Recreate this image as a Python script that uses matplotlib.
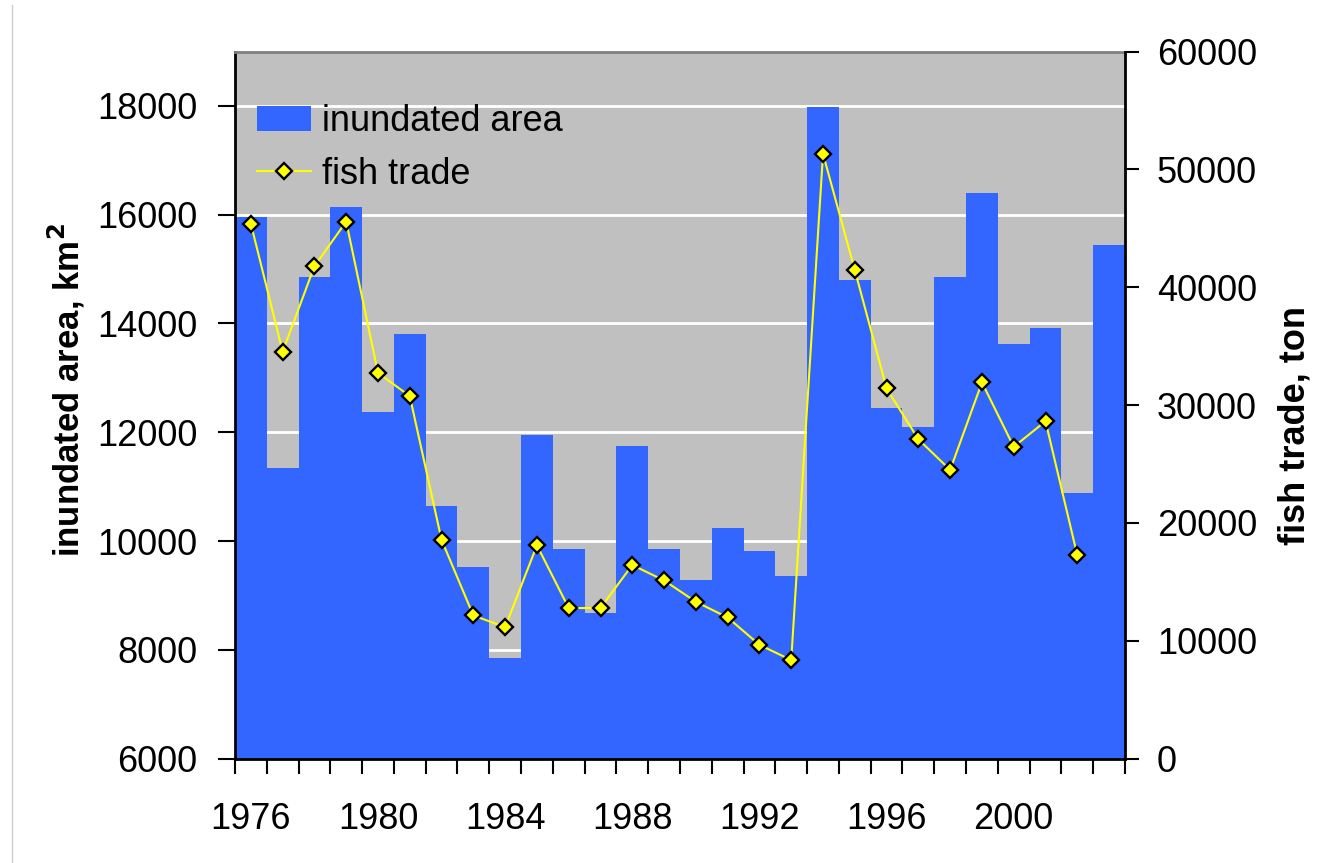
import numpy as np
import matplotlib
matplotlib.use("Agg")
from matplotlib import pyplot as plt
from matplotlib.lines import Line2D

plt.rcParams['font.family'] = ['Liberation Sans', 'DejaVu Sans']

# data
years = list(range(1976, 2004))
inundated_area = [15950, 11350, 14850, 16150, 12380, 13800, 10650, 9520, 7850,
                  11950, 9850, 8680, 11750, 9850, 9280, 10240, 9820, 9360,
                  17980, 14800, 12450, 12100, 14850, 16400, 13620, 13920,
                  10880, 15450]
trade_years = list(range(1976, 2003))
fish_trade = [45400, 34530, 41780, 45570, 32740, 30760, 18560, 12150, 11160,
              18100, 12780, 12780, 16430, 15120, 13310, 11980, 9660, 8360,
              51320, 41460, 31410, 27100, 24500, 31920, 26460, 28630, 17250]
label_years = [1976, 1980, 1984, 1988, 1992, 1996, 2000]
left_ticks = [6000, 8000, 10000, 12000, 14000, 16000, 18000]
right_ticks = [0, 10000, 20000, 30000, 40000, 50000, 60000]

fig = plt.figure(figsize=(13.38, 8.63), dpi=100)
ax = fig.add_axes([0.1756, 0.1209, 0.6652, 0.8194])
ax.set_facecolor('#C0C0C0')

# bars: one per year, filling the year slot
ax.bar(years, inundated_area, width=1.0, align='edge', color='#3366FF',
       linewidth=0, label='inundated area', zorder=2)
ax.set_xlim(1976, 2004)
ax.set_ylim(6000, 19000)
ax.set_yticks(left_ticks)
ax.set_axisbelow(True)
ax.yaxis.grid(True, color='white', linewidth=2)

# year boundary ticks, labels centred in the slot
ax.set_xticks(np.arange(1976, 2005))
ax.set_xticklabels([])
ax.set_xticks([y + 0.5 for y in label_years], minor=True)
ax.set_xticklabels([str(y) for y in label_years], minor=True)
ax.tick_params(axis='x', which='major', direction='out', length=11, width=1.5)
ax.tick_params(axis='x', which='minor', length=0, pad=31, labelsize=26)
ax.tick_params(axis='y', direction='out', length=12, width=1.5, pad=15,
               labelsize=26)

for s in ['left', 'bottom']:
    ax.spines[s].set_linewidth(2)
ax.spines['top'].set_color('#808080')
ax.spines['top'].set_linewidth(2)
ax.spines['right'].set_visible(False)

# fish trade on the right axis
ax2 = ax.twinx()
ax2.plot([y + 0.5 for y in trade_years], fish_trade, color='#FFFF00',
         linewidth=1.5, marker='D', markersize=8, markerfacecolor='#FFFF00',
         markeredgecolor='black', markeredgewidth=1.7, label='fish trade',
         zorder=5)
ax2.set_ylim(0, 60000)
ax2.set_yticks(right_ticks)
ax2.tick_params(axis='y', direction='out', length=10, width=1.5, pad=13,
                labelsize=26)
ax2.spines['right'].set_linewidth(2)
for s in ['top', 'left', 'bottom']:
    ax2.spines[s].set_visible(False)

fig.text(66 / 1338, 1 - 390 / 863, 'inundated area, km$^\\mathbf{2}$',
         rotation=90, ha='center', va='center', fontsize=25,
         fontweight='bold')
fig.text(1295 / 1338, 1 - 425 / 863, 'fish trade, ton', rotation=90,
         ha='center', va='center', fontsize=26, fontweight='bold')

h1, l1 = ax.get_legend_handles_labels()
h2, l2 = ax2.get_legend_handles_labels()
ax2.legend(h1 + h2, l1 + l2, loc='upper left',
           bbox_to_anchor=(257 / 1338, 1 - 104 / 863),
           bbox_transform=fig.transFigure, frameon=False, fontsize=26,
           borderpad=0, borderaxespad=0, handlelength=1.5,
           handletextpad=0.3, labelspacing=0.5)

# thin frame line at the left edge
fig.add_artist(Line2D([12 / 1338, 12 / 1338], [0, 1 - 5 / 863],
                      transform=fig.transFigure, color='#CCCCCC',
                      linewidth=1))

plt.savefig('out.png', dpi=100)
